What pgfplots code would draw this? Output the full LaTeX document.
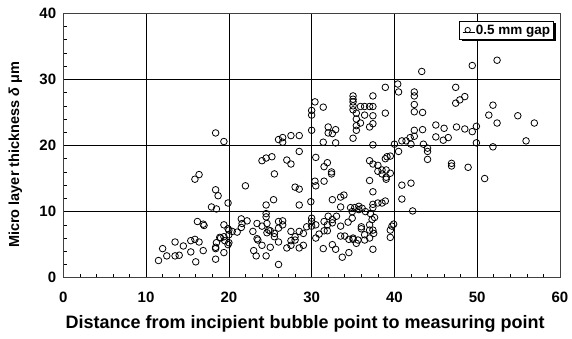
\documentclass[border=0pt]{standalone}
\usepackage{fontspec}
\setmainfont{Liberation Sans}
\usepackage{pgfplots}
\pgfplotsset{compat=1.18}
\usetikzlibrary{shadows}
\begin{document}
\begin{tikzpicture}
\begin{axis}[
  at={(0,0)}, anchor=south west,
  scale only axis, width=496.7pt, height=264.4pt,
  xmin=0,xmax=60,ymin=0,ymax=40,
  xtick={0,10,...,60}, ytick={0,10,...,40},
  minor x tick num=4, minor y tick num=4,
  grid=major, major grid style={black, line width=0.7pt},
  axis line style={black!75, line width=0.9pt},
  tick pos=left, tick align=inside,
  major tick length=5pt, minor tick length=4pt,
  tick style={black, line width=0.6pt},
  ticklabel style={font=\fontsize{15}{17}\selectfont\bfseries, inner sep=0pt},
  xticklabel style={anchor=north, yshift=-14pt},
  yticklabel style={anchor=east, xshift=-7pt},
  /pgf/number format/assume math mode=true,
  xlabel={Distance from incipient bubble point to measuring point},
  ylabel={Micro layer thickness \textit{δ} μm},
  xlabel style={font=\fontsize{18}{20}\selectfont\bfseries, at={(rel axis cs:0.487,0)}, anchor=center, yshift=-46pt},
  ylabel style={font=\fontsize{14.5}{17}\selectfont\bfseries, at={(rel axis cs:0,0.465)}, anchor=center, yshift=48pt},
  legend style={at={(rel axis cs:0.988,0.972)}, anchor=north east, draw=black, line width=0.8pt,
    font=\fontsize{13.5}{15}\selectfont\bfseries, inner sep=1pt,
    nodes={inner sep=2.5pt},
    drop shadow={shadow xshift=2pt, shadow yshift=-2pt, fill=black, opacity=1}, fill=white},
  legend cell align=left,
  legend image code/.code={\path[draw=none] (0cm,0cm) -- (0.45cm,0cm); \draw[only marks, mark=o, mark size=2.7pt, line width=0.7pt] plot coordinates {(0.25cm,0cm)};},
]
\addplot[only marks, mark=o, mark size=3.3pt, mark options={fill=white, draw=black, line width=0.8pt}] table {
x y
11.5 2.6
12.0 4.4
12.5 3.3
13.5 3.3
14.0 3.4
13.5 5.4
14.5 4.8
15.4 5.6
15.9 5.8
16.4 5.4
16.9 4.1
15.4 3.9
16.0 2.4
15.9 14.9
16.4 15.6
16.2 8.5
16.9 8.1
17.0 7.9
17.9 10.7
18.5 10.4
18.4 13.3
18.7 12.4
18.4 21.9
19.4 20.6
19.9 11.3
19.4 8.0
19.9 7.4
18.9 6.1
19.4 6.2
18.5 5.3
19.5 5.6
19.9 5.0
18.4 4.4
19.4 3.8
18.4 2.8
19.0 6.0
18.4 4.6
20.0 7.2
20.0 6.5
20.0 5.3
20.4 7.0
21.0 6.9
21.5 8.9
21.6 8.2
21.5 7.6
22.2 8.6
22.0 13.9
22.9 7.0
23.4 8.2
24.0 7.8
23.4 5.9
23.5 5.7
24.0 4.9
23.0 4.1
23.3 3.3
24.5 3.3
24.8 7.2
24.5 11.0
24.5 9.7
24.5 9.2
24.6 8.2
24.6 6.8
24.0 17.7
24.5 18.1
25.2 18.3
25.5 15.7
25.0 7.1
25.5 6.7
26.0 7.5
25.5 6.2
26.0 5.4
25.0 4.6
26.0 2.0
26.0 8.5
26.5 8.6
26.5 8.0
25.4 11.8
26.0 20.9
26.5 21.2
26.5 20.5
27.5 21.5
28.5 21.5
28.5 19.1
27.0 17.8
27.5 17.2
28.0 13.7
28.5 13.4
28.5 11.0
27.5 7.0
27.5 5.6
28.0 6.2
28.0 5.7
27.0 4.5
27.5 4.9
28.5 4.5
29.0 4.9
28.5 7.0
29.0 6.7
29.4 7.7
29.9 11.5
30.0 7.8
30.5 8.0
30.0 9.0
30.0 8.5
30.5 6.0
30.9 6.6
31.5 7.1
31.9 7.1
31.9 8.0
31.5 8.5
32.0 9.3
32.5 8.8
33.0 9.3
32.5 8.3
33.5 7.8
34.4 8.4
34.9 9.0
31.4 4.4
32.5 5.0
32.9 4.3
33.5 6.3
34.0 6.3
34.5 5.8
33.7 3.1
34.5 3.8
35.0 6.0
32.5 11.8
33.5 12.2
33.9 12.5
33.5 10.7
34.7 10.6
34.9 10.0
30.4 14.6
30.5 13.9
31.5 14.6
32.4 16.0
32.4 15.7
30.5 18.2
31.9 17.4
31.5 16.8
30.4 26.6
31.4 25.8
30.0 25.3
30.0 24.6
30.0 22.3
31.4 20.5
32.0 22.8
32.0 21.9
32.9 22.4
32.5 21.8
32.9 20.4
35.0 21.1
35.0 27.5
35.0 27.0
35.0 26.6
35.0 26.0
35.0 25.4
35.4 24.9
35.4 24.0
35.4 23.0
35.4 22.3
35.9 25.9
35.9 23.4
36.4 25.9
36.4 24.6
37.0 25.9
37.0 22.8
37.4 25.9
37.4 27.5
37.4 24.5
37.4 23.3
37.4 20.1
38.9 28.8
38.9 24.9
35.2 10.6
35.7 10.8
35.7 10.3
36.1 10.5
36.5 10.0
37.1 9.7
37.6 9.1
37.3 8.8
36.0 7.7
36.0 7.4
37.0 8.0
37.0 7.2
37.4 7.2
37.5 6.7
36.4 6.5
37.0 6.0
36.4 5.7
35.6 5.7
35.0 5.8
35.4 5.2
37.4 4.3
37.4 11.1
38.0 11.3
38.5 11.3
38.9 11.6
37.4 10.6
37.4 13.0
37.0 14.7
39.7 7.8
39.9 8.1
39.5 7.2
39.5 6.1
37.0 17.7
37.4 17.2
38.0 17.0
38.0 16.1
38.5 16.3
39.0 16.3
38.5 15.7
39.0 15.2
39.5 15.8
39.0 14.9
39.1 18.3
39.5 18.4
38.9 18.0
40.5 19.1
40.9 14.0
42.0 14.3
40.9 11.9
42.2 10.1
44.0 19.1
44.0 17.9
40.0 20.2
40.9 20.7
41.4 20.7
42.0 20.2
41.9 21.2
42.4 22.3
43.4 22.4
42.4 21.4
43.5 20.2
44.0 19.6
40.4 29.3
40.5 28.1
42.4 28.1
42.4 27.5
42.4 26.2
42.4 25.1
43.4 25.0
43.3 31.2
45.0 23.1
46.0 22.6
45.0 21.3
45.9 20.8
46.5 21.2
46.9 17.3
46.9 16.9
47.5 22.8
48.5 22.5
49.4 22.1
49.9 22.9
49.9 20.4
47.4 28.8
48.5 27.4
47.9 26.9
47.4 26.4
49.4 32.1
52.4 32.9
51.9 26.1
51.4 24.6
52.4 23.4
54.9 24.5
56.9 23.4
51.9 19.8
55.9 20.7
48.9 16.7
50.9 15.0
};
\addlegendentry{0.5 mm gap}
\end{axis}
\pgfresetboundingbox
\path (-63.3pt,-61.3pt) rectangle (508.7pt,277.7pt);
\end{tikzpicture}
\end{document}
